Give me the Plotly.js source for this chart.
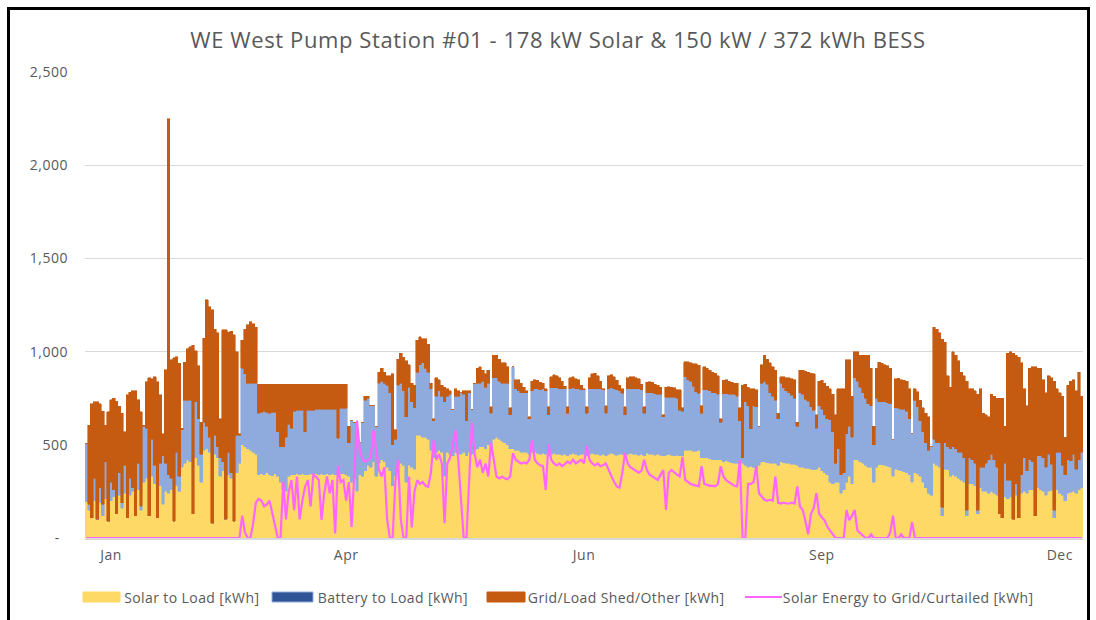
<!DOCTYPE html>
<html>
<head>
<meta charset="utf-8">
<script src="https://cdn.plot.ly/plotly-3.0.1.min.js"></script>
<style>
  html, body { margin: 0; padding: 0; background: #fff; }
  #container { width: 1096px; height: 620px; }
  #frame { position: absolute; left: 7px; top: 7px; width: 1083px; height: 620px;
           border: 3px solid #000; border-bottom: none; box-sizing: border-box; pointer-events: none; }
  /* the original text is set a little wider than Open Sans */
  #container .gtitle { letter-spacing: 0.6px; }
  #container .xtick text, #container .ytick text { letter-spacing: 0.5px; }
  #container .annotation-text { letter-spacing: 0.4px; }
</style>
</head>
<body>
<div id="container"></div>
<div id="frame"></div>
<script>
// daily values, one row per week (7 days), Jan 1 .. Dec 31
var solarToLoad = [
  195,150,110,200,100,190,120, 210,90,200,220,130,230,160, 240,110,230,250,120,260,150,
  300,320,120,330,290,110,280, 180,250,240,260,90,280,250, 380,400,420,410,130,430,390,
  300,470,480,460,80,450,430, 330,360,100,340,320,90,350, 400,500,490,480,470,460,450,
  340,345,340,350,340,335,345, 330,300,260,250,330,340,340, 345,340,345,340,340,345,340,
  345,340,345,340,345,340,345, 340,340,345,345,340,330,300, 320,250,340,330,360,390,380,
  410,330,400,420,410,380,360, 280,330,380,400,390,300,390, 380,370,550,550,540,540,530,
  470,430,460,470,460,330,460, 450,440,460,450,450,460,440, 460,450,470,480,490,490,480,
  500,470,530,540,530,520,510, 500,480,480,470,470,460,460, 460,450,460,460,455,450,455,
  450,440,450,455,450,450,445, 450,440,450,455,450,445,450, 450,440,450,455,450,450,445,
  450,440,450,455,450,445,450, 450,440,450,455,450,450,445, 450,440,455,450,450,445,450,
  445,440,445,450,445,440,445, 440,440,470,470,470,465,465, 470,430,430,430,425,420,420,
  420,420,410,415,410,405,400, 400,400,400,390,380,385,380, 375,390,410,410,405,400,400,
  400,390,410,405,400,400,395, 395,390,380,380,375,375,370, 365,370,380,360,350,340,300,
  290,300,300,240,260,300,330, 290,420,420,410,400,390,380, 380,300,380,392,392,390,385,
  380,330,370,365,360,355,350, 340,300,350,345,330,300,270, 240,230,400,390,380,120,370,
  365,330,340,330,320,310,300, 120,290,290,280,130,270,250, 250,240,250,240,230,130,110,
  220,210,220,100,230,110,240, 250,240,260,260,120,270,260, 250,230,250,255,110,260,240,
  230,200,240,245,250,240,260, 270
];
var batteryToLoad = [
  313,30,0,120,0,80,60, 200,0,100,40,0,120,30, 150,0,90,20,0,140,20,
  300,270,0,200,100,0,120, 260,150,100,60,0,180,80, 200,340,320,330,0,300,250,
  150,150,120,80,0,100,60, 100,50,0,120,30,0,200, 150,410,390,350,360,370,380,
  330,330,340,325,330,340,330, 240,190,230,290,280,250,340, 340,345,340,230,345,340,345,
  345,350,345,350,345,350,345, 350,195,350,350,355,180,330, 300,300,170,290,380,360,330,
  300,270,430,420,420,440,420, 220,200,440,430,400,350,420, 350,330,340,380,400,370,360,
  330,200,300,320,300,400,300, 320,250,300,310,330,310,190, 320,240,360,350,340,350,330,
  330,200,330,320,310,310,320, 330,180,440,330,320,320,320, 320,190,330,340,345,345,345,
  340,220,355,350,355,350,355, 350,230,350,350,350,355,345, 345,230,350,345,350,350,355,
  345,230,350,350,350,350,340, 326,220,350,345,350,350,355, 345,230,325,330,330,330,320,
  325,210,310,305,310,315,305, 245,240,395,380,370,350,320, 306,240,365,365,365,360,360,
  350,200,365,360,360,365,370, 360,230,30,340,330,200,330, 330,207,420,430,420,380,360,
  340,250,420,400,390,380,370, 355,210,400,390,370,360,335, 320,220,330,330,310,300,335,
  280,100,180,100,90,260,270, 250,440,420,400,380,360,340, 330,200,370,340,340,340,340,
  340,196,330,330,330,335,330, 300,260,390,360,300,270,240, 230,260,130,120,130,46,140,
  125,150,150,150,140,150,130, 30,140,130,120,20,110,130, 150,180,200,180,150,0,0,
  180,100,90,0,60,0,100, 180,120,160,150,0,170,180, 180,150,200,140,40,200,220,
  160,140,180,170,200,130,160, 190
];
var gridLoadShedOther = [
  0,426,610,410,631,450,500, 196,588,441,490,603,356,479, 180,658,463,520,670,341,508,
  6,249,741,324,476,729,368, 120,502,1910,636,878,513,607, 10,203,274,286,905,275,284,
  170,451,677,700,1145,570,610, 210,706,1016,645,760,1000,450, 10,150,240,315,330,320,300,
  156,151,146,151,156,151,151, 256,336,336,286,216,236,146, 141,141,141,256,141,141,141,
  136,136,136,136,136,136,136, 136,291,131,131,131,90,0, 0,0,0,0,20,10,0,
  0,0,60,70,60,50,90, 380,50,140,160,180,300,120, 100,120,170,150,130,160,150,
  30,10,100,60,60,80,40, 20,0,40,30,0,20,160, 10,0,0,80,90,60,70,
  70,35,120,120,120,110,110, 90,40,0,50,60,50,30, 10,10,50,50,45,40,30,
  10,45,60,70,65,60,40, 15,35,60,60,55,50,25, 5,35,60,80,85,70,40,
  5,40,70,70,65,50,30, 24,45,60,66,65,60,55, 30,35,55,58,55,50,50,
  40,10,55,57,55,50,45, 110,20,80,95,100,120,150, 150,40,125,115,110,110,105,
  100,20,70,73,70,65,60, 70,70,390,95,100,215,90, 90,0,100,140,135,160,160,
  160,30,35,60,70,80,90, 100,20,120,130,150,155,180, 195,70,130,155,170,175,165,
  200,260,320,460,450,395,355, 220,140,160,170,200,230,260, 200,100,160,210,205,200,200,
  190,0,155,162,160,155,160, 160,0,60,80,110,130,160, 180,0,600,610,590,900,540,
  380,330,510,500,490,430,440, 690,370,380,390,620,420,290, 260,230,320,340,370,620,640,
  200,680,690,890,690,860,600, 370,350,490,510,800,470,470, 420,400,420,465,690,340,320,
  370,200,400,425,400,420,470, 300
];
var solarToGridCurtailed = [
  0,0,0,0,0,0,0, 0,0,0,0,0,0,0, 0,0,0,0,0,0,0,
  0,0,0,0,0,0,0, 0,0,0,0,0,0,0, 0,0,0,0,0,0,0,
  0,0,0,0,0,0,0, 0,0,0,0,0,0,0, 0,120,30,0,0,80,190,
  210,200,170,180,200,130,60, 0,0,300,100,250,310,150, 330,100,200,276,310,170,340,
  330,311,97,240,330,240,311, 25,385,300,311,200,300,60, 380,630,470,420,410,420,430,
  580,470,365,330,380,100,0, 0,300,420,100,0,0,330, 57,250,310,290,300,280,275,
  350,525,420,450,400,80,400, 430,500,580,420,200,0,0, 300,617,450,380,420,350,400,
  330,510,420,330,320,330,320, 315,330,455,420,410,400,405, 400,420,525,420,400,390,385,
  258,505,420,400,390,400,385, 400,410,400,420,400,410,420, 400,495,420,400,390,400,385,
  390,400,365,330,300,277,270, 350,455,400,380,370,360,350, 360,420,365,340,330,320,312,
  340,365,150,350,365,350,340, 330,435,312,300,290,285,280, 277,385,290,285,280,280,277,
  290,385,330,310,300,290,280, 277,420,0,0,290,290,300, 385,240,220,205,200,205,200,
  330,190,185,190,185,185,190, 185,277,168,150,90,20,130, 160,240,130,110,95,60,40,
  25,0,0,0,0,150,95, 120,150,40,25,10,0,0, 20,0,0,0,0,0,0,
  30,120,0,0,20,0,0, 0,85,0,0,0,0,0, 0,0,0,0,0,0,0,
  0,0,0,0,0,0,0, 0,0,0,0,0,0,0, 0,0,0,0,0,0,0,
  0,0,0,0,0,0,0, 0,0,0,0,0,0,0, 0,0,0,0,0,0,0,
  0,0,0,0,0,0,0, 0
];

var monthLabels = ['Jan', 'Apr', 'Jun', 'Sep', 'Dec'];
var monthTickDays = [9, 95, 182, 269, 356];
var yTickVals = [0, 500, 1000, 1500, 2000, 2500];
var yTickText = ['-\u00A0\u00A0', '500', '1,000', '1,500', '2,000', '2,500'];

var seriesNames = ['Solar to Load [kWh]', 'Battery to Load [kWh]', 'Grid/Load Shed/Other [kWh]', 'Solar Energy to Grid/Curtailed [kWh]'];
var seriesColors = ['#FFD966', '#8FAADC', '#C55A11', '#FF66FF'];

var days = [];
for (var i = 0; i < solarToLoad.length; i++) days.push(i);

function barTrace(y, color) {
    return {
        x: days, y: y, type: 'bar', showlegend: false,
        marker: { color: color, line: { width: 0.6, color: color } },
        hoverinfo: 'skip'
    };
}

var data = [
    barTrace(solarToLoad, seriesColors[0]),
    barTrace(batteryToLoad, seriesColors[1]),
    barTrace(gridLoadShedOther, seriesColors[2]),
    {
        x: days, y: solarToGridCurtailed, type: 'scatter', mode: 'lines', showlegend: false,
        line: { color: seriesColors[3], width: 2.2 }, hoverinfo: 'skip'
    }
];

// plot area in pixels: x 85..1083, y 72..538
var L = 85, R = 1083, T = 72, B = 538;
function px2x(px) { return (px - L) / (R - L); }
function py2y(py) { return (B - py) / (B - T); }

var font = "'Open Sans', 'Liberation Sans', sans-serif";
var grey = '#595959';

// legend drawn by hand: wide swatches like the original
var legendY = 597;
var legendItems = [
    { kind: 'rect', color: seriesColors[0], line: seriesColors[0], x0: 83, x1: 120, tx: 126 },
    { kind: 'rect', color: '#2F5597', line: '#8FAADC', x0: 272, x1: 313, tx: 320 },
    { kind: 'rect', color: seriesColors[2], line: seriesColors[2], x0: 487, x1: 525, tx: 531 },
    { kind: 'line', color: seriesColors[3], line: seriesColors[3], x0: 745, x1: 782, tx: 788 }
];
var shapes = [], annotations = [];
legendItems.forEach(function(it, k) {
    if (it.kind === 'rect') {
        shapes.push({ type: 'rect', xref: 'paper', yref: 'paper',
            x0: px2x(it.x0), x1: px2x(it.x1), y0: py2y(legendY + 5), y1: py2y(legendY - 5),
            fillcolor: it.color, line: { color: it.line, width: 1 } });
    } else {
        shapes.push({ type: 'line', xref: 'paper', yref: 'paper',
            x0: px2x(it.x0), x1: px2x(it.x1), y0: py2y(legendY), y1: py2y(legendY),
            line: { color: it.color, width: 2 } });
    }
    annotations.push({ xref: 'paper', yref: 'paper', x: px2x(it.tx), y: py2y(legendY),
        xanchor: 'left', yanchor: 'middle', showarrow: false, text: seriesNames[k],
        font: { family: font, size: 14, color: grey } });
});

var layout = {
    width: 1096, height: 620,
    margin: { l: L, r: 1096 - R, t: T, b: 620 - B },
    paper_bgcolor: '#FFFFFF', plot_bgcolor: '#FFFFFF',
    title: { text: 'WE West Pump Station #01 - 178 kW Solar & 150 kW / 372 kWh BESS',
             xref: 'container', yref: 'container', x: 558 / 1096, y: 1 - 40 / 620,
             xanchor: 'center', yanchor: 'middle',
             font: { family: font, size: 22, color: grey } },
    barmode: 'stack', bargap: 0,
    showlegend: false,
    xaxis: {
        range: [-0.5, solarToLoad.length - 0.5],
        tickvals: monthTickDays, ticktext: monthLabels,
        showgrid: false, zeroline: false, showline: true, linecolor: '#D9D9D9', linewidth: 2,
        ticks: '', tickfont: { family: font, size: 14, color: grey }, ticklabelstandoff: 3
    },
    yaxis: {
        range: [0, 2500], tickvals: yTickVals, ticktext: yTickText,
        showgrid: true, gridcolor: '#D9D9D9', gridwidth: 1, zeroline: false, showline: false,
        ticks: '', tickfont: { family: font, size: 14, color: grey }, ticklabelstandoff: 16
    },
    shapes: shapes,
    annotations: annotations
};

Plotly.newPlot('container', data, layout, { displayModeBar: false, staticPlot: true });
</script>
</body>
</html>
